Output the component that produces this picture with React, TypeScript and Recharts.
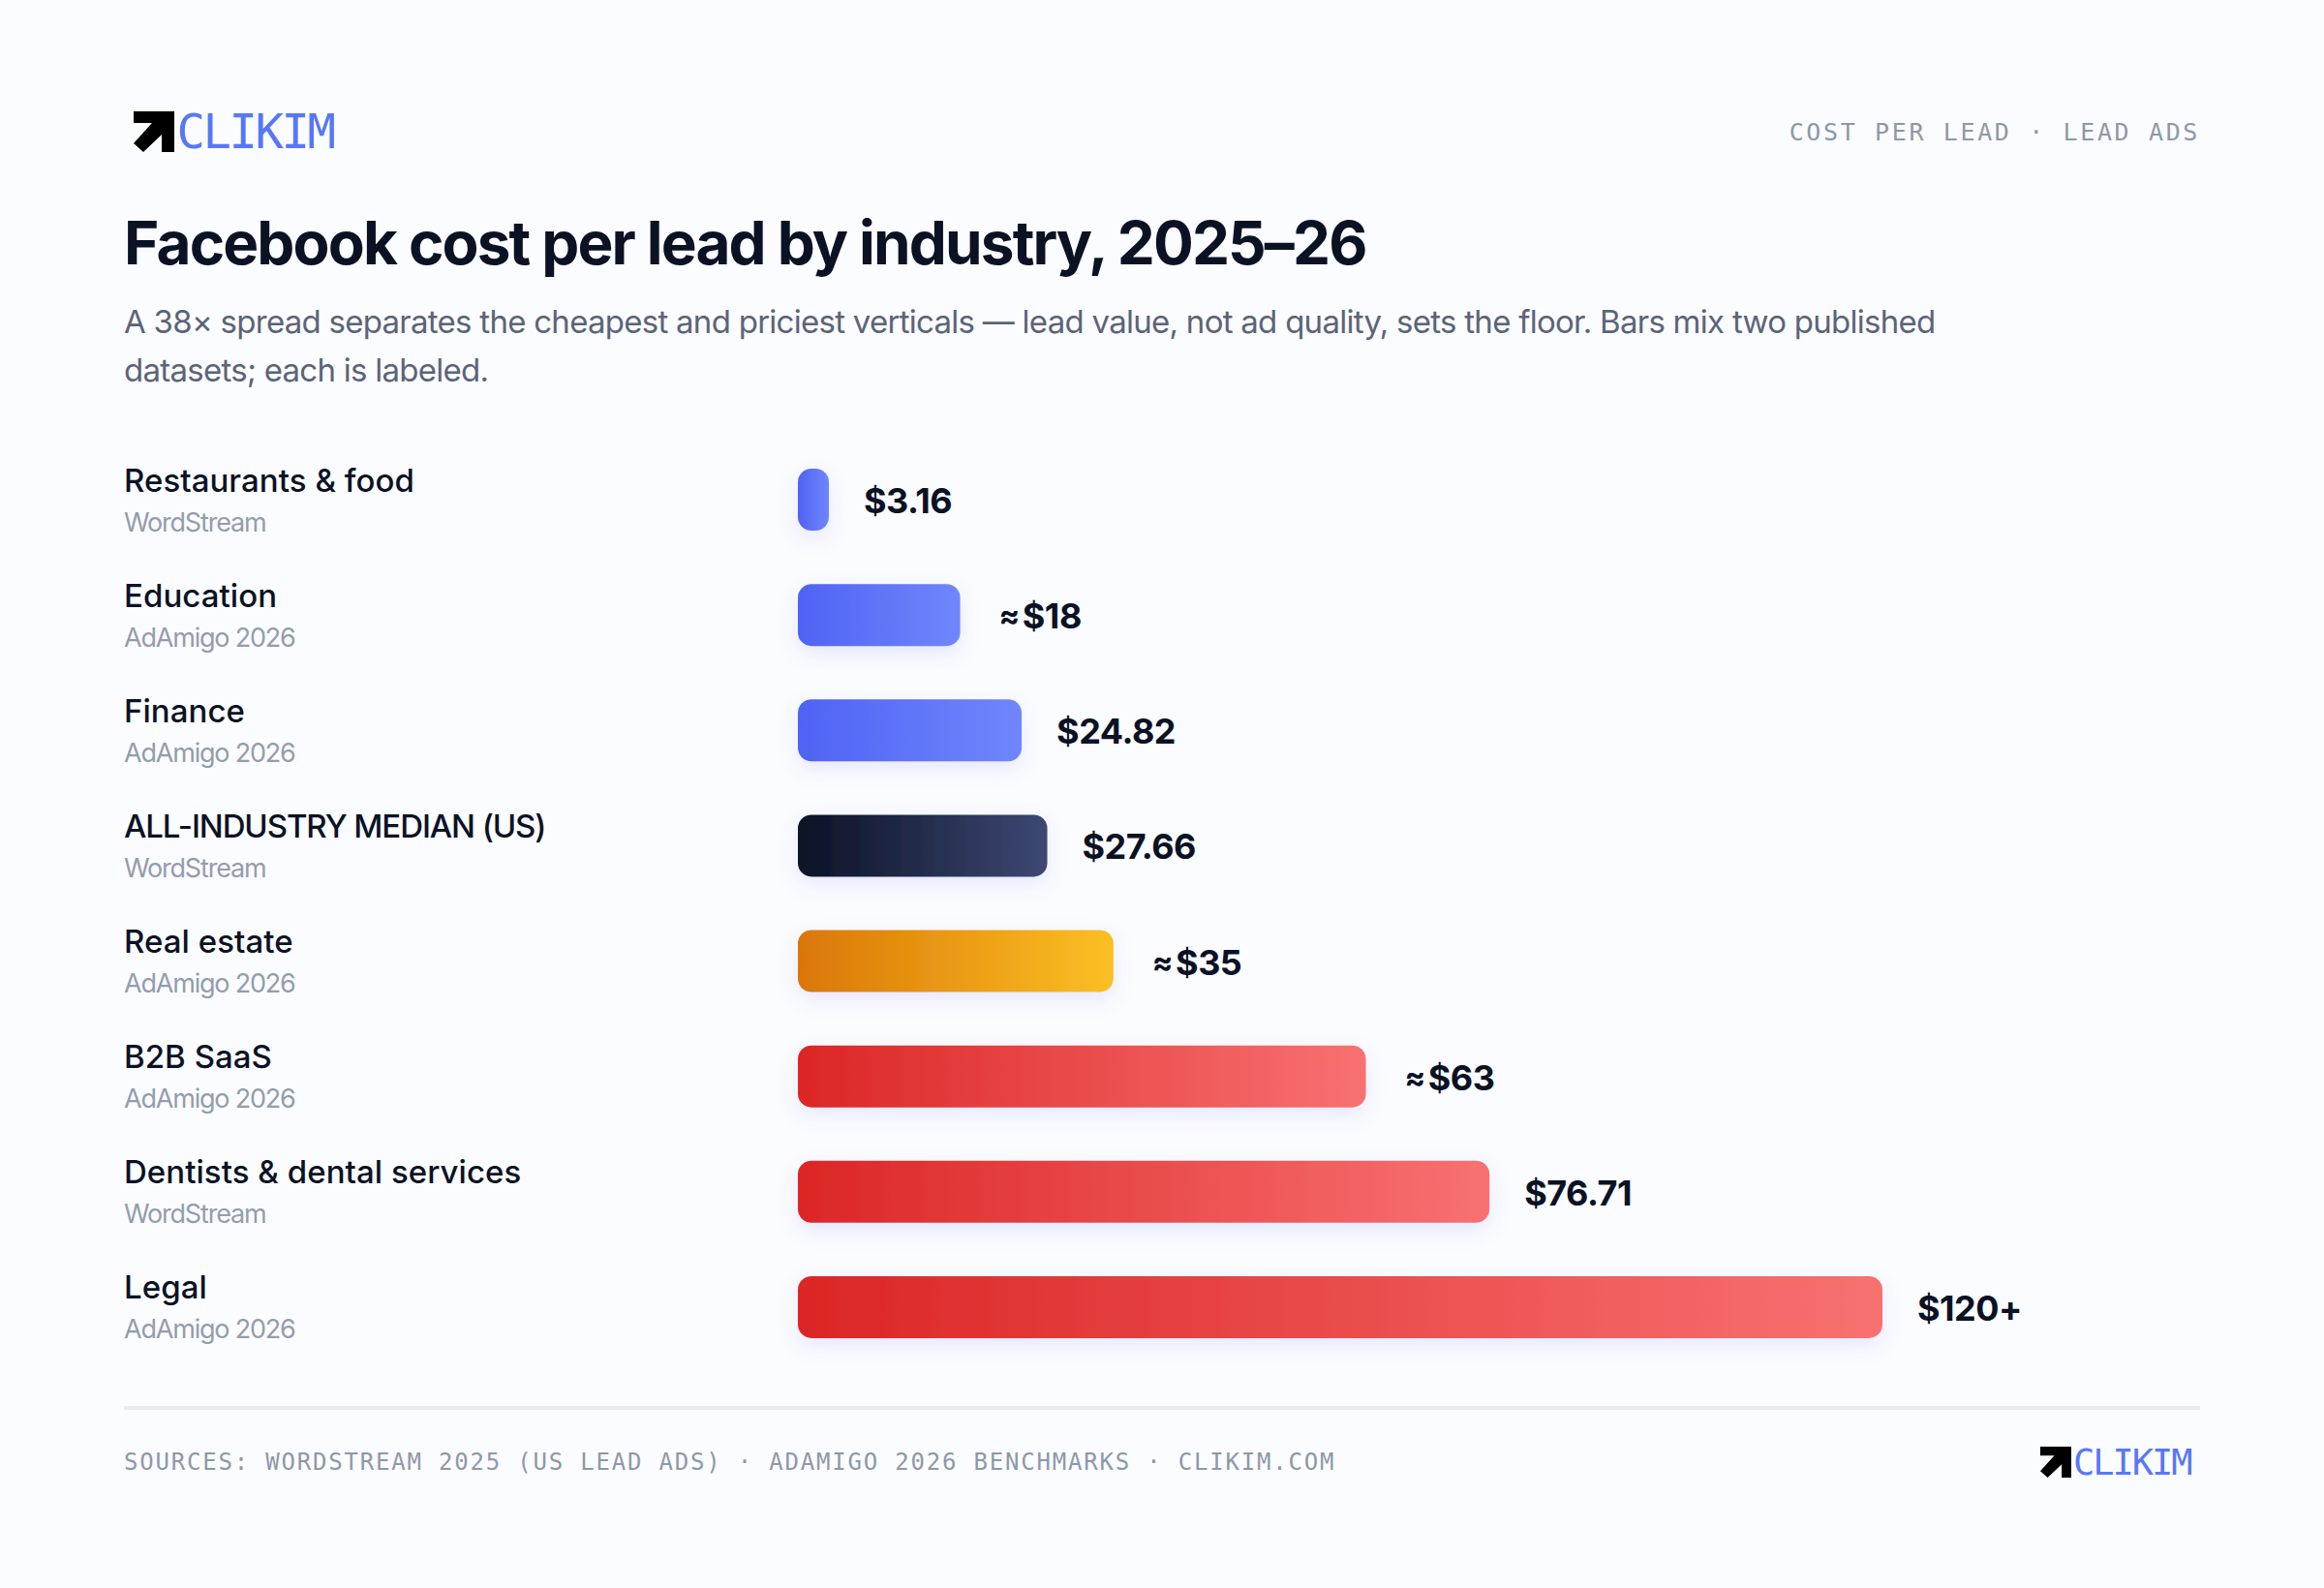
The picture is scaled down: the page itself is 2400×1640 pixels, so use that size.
import { BarChart, Bar, XAxis, YAxis, Cell, LabelList } from "recharts";

const CATEGORIES = ["Restaurants & food", "Education", "Finance", "ALL-INDUSTRY MEDIAN (US)", "Real estate", "B2B SaaS", "Dentists & dental services", "Legal"];
const SOURCES = ["WordStream", "AdAmigo 2026", "AdAmigo 2026", "WordStream", "AdAmigo 2026", "AdAmigo 2026", "WordStream", "AdAmigo 2026"];
// legal is shown as "$120+", so its bar runs a touch past 120
const VALUES = [3.16, 18, 24.82, 27.66, 35, 63, 76.71, 120.3];
const VALUE_LABELS = ["$3.16", "≈$18", "$24.82", "$27.66", "≈$35", "≈$63", "$76.71", "$120+"];
const TONES = ["blue", "blue", "blue", "dark", "amber", "red", "red", "red"];

const GRADIENTS: Record<string, [string, string]> = {
  blue: ["#4f63f5", "#7086fb"],
  dark: ["#0b1226", "#3d4872"],
  amber: ["#d97706", "#fbbf24"],
  red: ["#dc2626", "#f87171"],
};

const data = CATEGORIES.map((name, i) => ({ name, value: VALUES[i] }));

const INK = "#0b1224";
const MONO = "'DejaVu Sans Mono', monospace";
const SANS = "Inter, sans-serif";

function Logo({ left, top, size, fontSize, spacing }: { left: number; top: number; size: number; fontSize: number; spacing: number }) {
  return (
    <div style={{ position: "absolute", left, top, height: size, display: "flex", alignItems: "center" }}>
      <svg width={size} height={size} viewBox="0 0 42 42" style={{ display: "block" }}>
        <polygon points="0,0 42,0 42,42 29,42 29,24 10,42 0,33 19,12 0,12" fill="#000" />
      </svg>
      <span style={{ marginLeft: size * 0.06, fontFamily: MONO, fontSize, letterSpacing: spacing, color: "#5877f8", lineHeight: 1 }}>CLIKIM</span>
    </div>
  );
}

function CategoryTick({ y, index }: any) {
  const name = CATEGORIES[index];
  const caps = name === name.toUpperCase() && name.length > 10;
  return (
    <g>
      <text x={128} y={y - 8} fontFamily={SANS} fontSize={33} fontWeight={500} fill={INK} letterSpacing={caps ? -1.1 : 0.05}>{name}</text>
      <text x={128} y={y + 33} fontFamily={SANS} fontSize={27} fill="#949cae" letterSpacing={-1.2}>{SOURCES[index]}</text>
    </g>
  );
}

function ValueLabel({ x, y, width, height, index }: any) {
  const label = VALUE_LABELS[index];
  const approx = label.startsWith("≈");
  return (
    <text x={x + width + (approx ? 40 : 36)} y={y + height / 2 + 14} fontFamily={SANS} fontSize={36} fontWeight={700} fill={INK} letterSpacing={-0.5}>
      {approx && <tspan fontSize={32} dy={-2}>≈</tspan>}
      {approx ? <tspan dx={3} dy={2}>{label.slice(1)}</tspan> : label}
    </text>
  );
}

export default function App() {
  return (
    <div style={{ position: "absolute", left: 0, top: 0, width: 2400, height: 1640, background: "#fbfcff", overflow: "hidden" }}>
      <Logo left={138} top={115} size={42} fontSize={49} spacing={-2.5} />
      <div style={{ position: "absolute", right: 128, top: 122, fontFamily: MONO, fontSize: 25, letterSpacing: 2.63, color: "#8e97a9", lineHeight: "30px" }}>COST PER LEAD · LEAD ADS</div>

      <div style={{ position: "absolute", left: 128, top: 211, fontFamily: SANS, fontSize: 62, fontWeight: 700, letterSpacing: -1.85, color: INK, lineHeight: "80px", whiteSpace: "nowrap" }}>
        Facebook cost per lead by industry, 2025–26
      </div>
      <div style={{ position: "absolute", left: 128, top: 307, fontFamily: SANS, fontSize: 33, color: "#5b6478", lineHeight: "50px", letterSpacing: -0.73, whiteSpace: "nowrap" }}>
        A 38× spread separates the cheapest and priciest verticals — lead value, not ad quality, sets the floor. Bars mix two published<br />
        datasets; each is labeled.
      </div>

      <div style={{ position: "absolute", left: 0, top: 456 }}>
        <BarChart width={2400} height={953} data={data} layout="vertical" margin={{ top: 0, right: 456, bottom: 0, left: 0 }}>
          <defs>
            {Object.entries(GRADIENTS).map(([tone, [from, to]]) => (
              <linearGradient key={tone} id={`bar-${tone}`} x1="0" y1="0" x2="1" y2="0">
                <stop offset="0%" stopColor={from} />
                <stop offset="100%" stopColor={to} />
              </linearGradient>
            ))}
            <filter id="barShadow" x="-100%" y="-60%" width="300%" height="240%">
              <feDropShadow dx={0} dy={8} stdDeviation={10} floodColor="#4f63f5" floodOpacity={0.13} />
            </filter>
          </defs>
          <XAxis type="number" domain={[0, 120.3]} hide />
          <YAxis type="category" dataKey="name" width={824} axisLine={false} tickLine={false} interval={0} tick={<CategoryTick />} />
          <Bar dataKey="value" barSize={64} radius={14} minPointSize={32} isAnimationActive={false} filter="url(#barShadow)">
            {data.map((d, i) => (
              <Cell key={d.name} fill={`url(#bar-${TONES[i]})`} />
            ))}
            <LabelList dataKey="value" content={<ValueLabel />} />
          </Bar>
        </BarChart>
      </div>

      <div style={{ position: "absolute", left: 128, top: 1452, width: 2144, height: 4, background: "#e8ebf3" }} />
      <div style={{ position: "absolute", left: 128, top: 1495, fontFamily: MONO, fontSize: 24, letterSpacing: 1.8, color: "#8e97a9", lineHeight: "30px", whiteSpace: "nowrap" }}>
        SOURCES: WORDSTREAM 2025 (US LEAD ADS) · ADAMIGO 2026 BENCHMARKS · CLIKIM.COM
      </div>
      <Logo left={2107} top={1494} size={32} fontSize={37} spacing={-2} />
    </div>
  );
}
